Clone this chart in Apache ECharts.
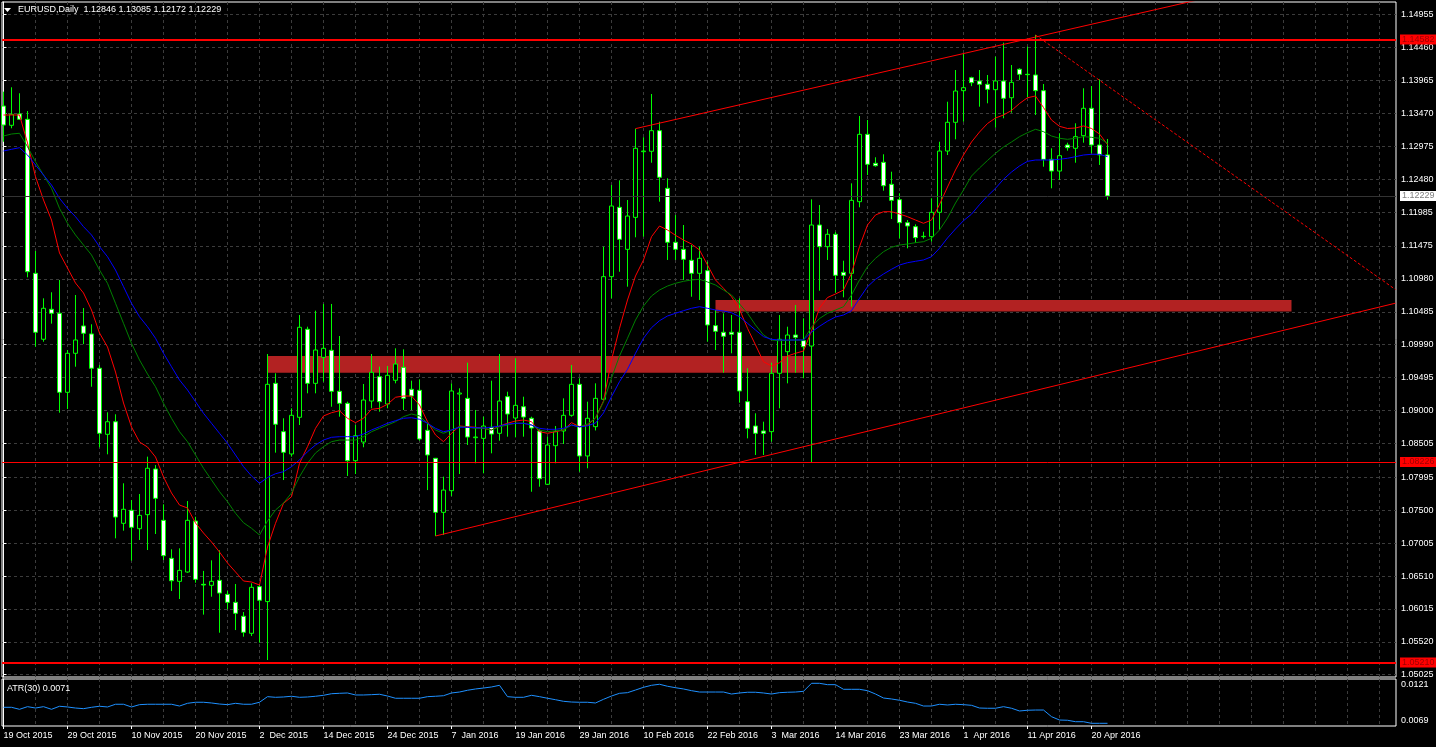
<!DOCTYPE html>
<html><head><meta charset="utf-8">
<script src="https://cdn.jsdelivr.net/npm/echarts@6/dist/echarts.min.js"></script>
<style>html,body{margin:0;padding:0;background:#000;overflow:hidden}#c{width:1436px;height:747px}</style>
</head><body><div id="c"></div>
<script>
// ---------------- DATA ----------------
const symbolTitle = 'EURUSD,Daily';
const lastBar = ['1.12846', '1.13085', '1.12172', '1.12229'];
const atrTitle = 'ATR(30) 0.0071';

const tickLabels = ['19 Oct 2015','29 Oct 2015','10 Nov 2015','20 Nov 2015','2  Dec 2015','14 Dec 2015','24 Dec 2015','7  Jan 2016','19 Jan 2016','29 Jan 2016','10 Feb 2016','22 Feb 2016','3  Mar 2016','14 Mar 2016','23 Mar 2016','1  Apr 2016','11 Apr 2016','20 Apr 2016'];
const priceTicks = [1.14955,1.14460,1.13965,1.13470,1.12975,1.12480,1.11985,1.11475,1.10980,1.10485,1.09990,1.09495,1.09000,1.08505,1.07995,1.07500,1.07005,1.06510,1.06015,1.05520,1.05025];
const atrTicks = [0.0069, 0.0121];

const opens = [1.13581,1.13291,1.13462,1.13381,1.11064,1.10072,1.10523,1.10463,1.09274,1.09861,
 1.10272,1.10152,1.09636,1.08642,1.08831,1.07303,1.07499,1.07222,1.07433,1.08120,
 1.07348,1.06776,1.06430,1.06570,1.07337,1.06385,1.06370,1.06445,1.06234,1.06114,
 1.05904,1.05648,1.06350,1.06125,1.09409,1.08682,1.08346,1.08898,1.10222,1.09409,
 1.09800,1.09906,1.09289,1.09108,1.08245,1.08526,1.09143,1.09509,1.09098,1.09455,
 1.09650,1.09319,1.09304,1.08702,1.08281,1.07468,1.07794,1.09248,1.09183,1.08591,
 1.08581,1.08747,1.08657,1.09208,1.08887,1.09057,1.08883,1.08692,1.07890,1.08471,
 1.08692,1.08928,1.09394,1.08316,1.08757,1.09169,1.11014,1.12057,1.11425,1.11906,
 1.12894,1.12900,1.13210,1.12343,1.11531,1.11425,1.11260,1.11064,1.11104,1.10277,
 1.10177,1.10177,1.10177,1.09133,1.08767,1.08692,1.08682,1.09560,1.09885,1.10136,
 1.10051,1.09970,1.11791,1.11465,1.11651,1.11079,1.11064,1.12142,1.13155,1.12719,
 1.12734,1.12403,1.12172,1.11826,1.11766,1.11616,1.11616,1.11982,1.12904,1.13336,
 1.13812,1.14007,1.13957,1.13908,1.13827,1.13957,1.13706,1.14134,1.14058,1.14048,
 1.13812,1.12779,1.12603,1.12995,1.12945,1.13135,1.13547,1.12995,1.12846];
const highs = [1.13797,1.13863,1.13773,1.13506,1.11400,1.10688,1.10779,1.10964,1.09910,1.10738,
 1.10542,1.10297,1.09685,1.08973,1.08943,1.07905,1.07653,1.07744,1.08306,1.08180,
 1.07589,1.06912,1.06927,1.07638,1.07402,1.06587,1.06746,1.06897,1.06285,1.06390,
 1.05968,1.06400,1.06385,1.09850,1.09560,1.08883,1.09033,1.10437,1.10261,1.10502,
 1.10603,1.10603,1.10121,1.09133,1.08782,1.09399,1.09850,1.09660,1.09670,1.09936,
 1.09921,1.09449,1.09469,1.08807,1.08286,1.08005,1.09409,1.09334,1.09720,1.09008,
 1.08907,1.09449,1.09850,1.09283,1.09786,1.09208,1.08907,1.08717,1.08606,1.08767,
 1.09183,1.09685,1.09485,1.09133,1.09409,1.11465,1.12393,1.12463,1.12167,1.13240,
 1.13111,1.13762,1.13345,1.12494,1.11941,1.11791,1.11490,1.11465,1.11239,1.10512,
 1.10462,1.10437,1.10688,1.09636,1.08958,1.08832,1.09720,1.10437,1.10261,1.10588,
 1.10387,1.12177,1.12092,1.11731,1.11686,1.11254,1.12418,1.13431,1.13371,1.12810,
 1.12855,1.12593,1.12268,1.11866,1.11801,1.11690,1.12193,1.13044,1.13646,1.14123,
 1.14374,1.14022,1.14123,1.14048,1.14324,1.14534,1.14198,1.14149,1.14474,1.14650,
 1.13912,1.12945,1.13171,1.13029,1.13321,1.13848,1.13882,1.13983,1.13085];
const lows = [1.13044,1.13246,1.13371,1.11004,1.09960,1.10035,1.10307,1.08967,1.09023,1.09659,
 1.09999,1.09358,1.08447,1.08341,1.07077,1.07192,1.06741,1.07052,1.06901,1.07142,
 1.06751,1.06284,1.06164,1.06560,1.06409,1.05929,1.06199,1.05657,1.06009,1.05697,
 1.05597,1.05607,1.05507,1.05246,1.08366,1.07954,1.08306,1.08782,1.09259,1.09259,
 1.09434,1.09057,1.08907,1.08015,1.08045,1.08447,1.09033,1.08982,1.09033,1.09409,
 1.09008,1.09008,1.08546,1.07803,1.07112,1.07127,1.07713,1.08045,1.08481,1.08206,
 1.08055,1.08356,1.08546,1.08606,1.08596,1.08606,1.07778,1.07854,1.07879,1.08206,
 1.08496,1.08907,1.08080,1.08131,1.08700,1.09158,1.10688,1.11088,1.10863,1.11606,
 1.11616,1.12728,1.12142,1.11265,1.11265,1.10964,1.10712,1.10663,1.10035,1.09910,
 1.09569,1.09861,1.09118,1.08581,1.08331,1.08331,1.08531,1.09033,1.09409,1.09569,
 1.09485,1.08215,1.10803,1.11265,1.10773,1.10703,1.10562,1.12057,1.12543,1.12668,
 1.12307,1.11881,1.11591,1.11440,1.11525,1.11586,1.11540,1.11716,1.12844,1.13080,
 1.13345,1.13880,1.13571,1.13622,1.13255,1.13396,1.13481,1.13973,1.13712,1.13446,
 1.12668,1.12343,1.12468,1.12909,1.12728,1.13029,1.12870,1.12694,1.12172];
const closes = [1.13295,1.13457,1.13382,1.11088,1.10177,1.10538,1.10463,1.09274,1.09861,1.10061,
 1.10162,1.09636,1.08657,1.08831,1.07397,1.07514,1.07243,1.07423,1.08131,1.07679,
 1.06816,1.06439,1.06595,1.07348,1.06460,1.06375,1.06430,1.06254,1.06114,1.05949,
 1.05663,1.06340,1.06145,1.09394,1.08793,1.08371,1.08928,1.10252,1.09409,1.09910,
 1.09936,1.09289,1.09108,1.08245,1.08621,1.09158,1.09575,1.09133,1.09530,1.09700,
 1.09183,1.09218,1.08571,1.08331,1.07468,1.07803,1.09294,1.09263,1.08601,1.08601,
 1.08767,1.08646,1.09143,1.08947,1.09078,1.08902,1.08737,1.07974,1.08481,1.08682,
 1.08928,1.09394,1.08316,1.08883,1.09183,1.11014,1.12077,1.11576,1.11926,1.12945,
 1.12904,1.13210,1.12509,1.11531,1.11425,1.11275,1.11064,1.11290,1.10287,1.10192,
 1.10117,1.10147,1.09294,1.08732,1.08657,1.08657,1.09560,1.10072,1.10136,1.10102,
 1.09960,1.11791,1.11465,1.11651,1.11034,1.11034,1.12162,1.13155,1.12704,1.12683,
 1.12382,1.12162,1.11826,1.11776,1.11601,1.11621,1.11982,1.12904,1.13336,1.13807,
 1.13857,1.13932,1.13908,1.13833,1.13958,1.13697,1.13938,1.14058,1.14053,1.13812,
 1.12779,1.12603,1.12834,1.12954,1.13120,1.13547,1.12995,1.12846,1.12229];

const maRed = [1.13446,1.13446,1.13446,1.13025,1.12518,1.12167,1.11866,1.11370,1.11144,1.10918,
 1.10768,1.10512,1.10166,1.09956,1.09579,1.09113,1.08752,1.08526,1.08451,1.08301,
 1.08000,1.07759,1.07578,1.07533,1.07308,1.07157,1.07022,1.06871,1.06706,1.06571,
 1.06435,1.06420,1.06375,1.06947,1.07303,1.07604,1.07703,1.08206,1.08456,1.08732,
 1.08918,1.08967,1.08997,1.08883,1.08817,1.08883,1.09018,1.09033,1.09094,1.09199,
 1.09218,1.09218,1.09083,1.08832,1.08632,1.08531,1.08657,1.08767,1.08756,1.08748,
 1.08732,1.08707,1.08767,1.08808,1.08842,1.08857,1.08832,1.08681,1.08657,1.08681,
 1.08707,1.08817,1.08756,1.08782,1.08887,1.09143,1.09760,1.10237,1.10663,1.11024,
 1.11265,1.11615,1.11776,1.11716,1.11636,1.11565,1.11505,1.11415,1.11189,1.10964,
 1.10839,1.10712,1.10523,1.10237,1.09986,1.09734,1.09670,1.09719,1.09820,1.09861,
 1.09895,1.10196,1.10542,1.10700,1.10753,1.10813,1.11064,1.11465,1.11791,1.11942,
 1.11991,1.11991,1.11957,1.11916,1.11866,1.11817,1.11866,1.12100,1.12363,1.12619,
 1.12844,1.13040,1.13190,1.13318,1.13401,1.13446,1.13514,1.13619,1.13706,1.13732,
 1.13559,1.13371,1.13276,1.13243,1.13250,1.13281,1.13243,1.13160,1.13002];
const maGreen = [1.13130,1.13160,1.13171,1.12969,1.12743,1.12543,1.12343,1.12042,1.11817,1.11641,
 1.11490,1.11340,1.11114,1.10914,1.10613,1.10312,1.10011,1.09760,1.09549,1.09358,
 1.09109,1.08883,1.08681,1.08531,1.08331,1.08131,1.07955,1.07779,1.07628,1.07454,
 1.07312,1.07228,1.07127,1.07338,1.07503,1.07609,1.07759,1.08004,1.08206,1.08361,
 1.08456,1.08531,1.08556,1.08556,1.08556,1.08606,1.08681,1.08732,1.08782,1.08832,
 1.08907,1.08948,1.08918,1.08808,1.08707,1.08657,1.08707,1.08756,1.08748,1.08732,
 1.08732,1.08707,1.08756,1.08782,1.08808,1.08808,1.08782,1.08707,1.08681,1.08696,
 1.08707,1.08782,1.08756,1.08797,1.08887,1.09128,1.09489,1.09820,1.10087,1.10362,
 1.10572,1.10723,1.10813,1.10873,1.10914,1.10944,1.10964,1.10974,1.10934,1.10888,
 1.10813,1.10738,1.10603,1.10463,1.10287,1.10136,1.10061,1.10050,1.10056,1.10061,
 1.10061,1.10257,1.10384,1.10463,1.10512,1.10562,1.10738,1.10964,1.11164,1.11290,
 1.11389,1.11456,1.11490,1.11505,1.11525,1.11540,1.11591,1.11716,1.11896,1.12122,
 1.12318,1.12528,1.12649,1.12762,1.12870,1.12965,1.13040,1.13120,1.13180,1.13231,
 1.13195,1.13130,1.13096,1.13080,1.13096,1.13120,1.13111,1.13096,1.13020];
const maBlue = [1.12904,1.12930,1.12954,1.12844,1.12694,1.12543,1.12393,1.12193,1.12042,1.11916,
 1.11766,1.11641,1.11465,1.11314,1.11114,1.10863,1.10613,1.10411,1.10261,1.10087,
 1.09861,1.09659,1.09459,1.09309,1.09133,1.08958,1.08808,1.08657,1.08507,1.08331,
 1.08155,1.08015,1.07905,1.07992,1.08049,1.08080,1.08155,1.08256,1.08380,1.08481,
 1.08556,1.08597,1.08606,1.08606,1.08606,1.08647,1.08707,1.08756,1.08808,1.08847,
 1.08883,1.08892,1.08868,1.08808,1.08732,1.08681,1.08707,1.08748,1.08748,1.08742,
 1.08737,1.08748,1.08767,1.08797,1.08808,1.08808,1.08782,1.08732,1.08717,1.08717,
 1.08732,1.08782,1.08752,1.08770,1.08812,1.08963,1.09208,1.09434,1.09620,1.09861,
 1.10087,1.10246,1.10351,1.10422,1.10463,1.10502,1.10538,1.10562,1.10538,1.10512,
 1.10497,1.10472,1.10411,1.10312,1.10211,1.10111,1.10071,1.10061,1.10061,1.10061,
 1.10061,1.10181,1.10267,1.10344,1.10407,1.10437,1.10502,1.10688,1.10863,1.10974,
 1.11054,1.11125,1.11189,1.11224,1.11245,1.11265,1.11314,1.11441,1.11596,1.11731,
 1.11856,1.11954,1.12097,1.12227,1.12343,1.12479,1.12588,1.12679,1.12749,1.12769,
 1.12769,1.12769,1.12780,1.12795,1.12819,1.12844,1.12855,1.12855,1.12819];
const atr = [0.00910,0.00910,0.00885,0.00918,0.00901,0.00918,0.00885,0.00923,0.00914,0.00901,
 0.00893,0.00910,0.00923,0.00914,0.00948,0.00948,0.00914,0.00943,0.00948,0.00948,
 0.00948,0.00948,0.00926,0.00960,0.00973,0.00973,0.00964,0.00951,0.00943,0.00960,
 0.00948,0.00948,0.00973,0.01043,0.01035,0.01039,0.01048,0.01035,0.01039,0.01048,
 0.01060,0.01080,0.01085,0.01089,0.01064,0.01064,0.01068,0.01073,0.01051,0.01023,
 0.01023,0.01023,0.01023,0.01043,0.01048,0.01055,0.01089,0.01101,0.01123,0.01139,
 0.01151,0.01164,0.01185,0.01043,0.01035,0.01035,0.01060,0.01043,0.01023,0.01005,
 0.00985,0.00976,0.00973,0.00973,0.00964,0.01010,0.01051,0.01085,0.01093,0.01126,
 0.01160,0.01185,0.01198,0.01173,0.01155,0.01139,0.01118,0.01101,0.01101,0.01101,
 0.01101,0.01076,0.01089,0.01098,0.01098,0.01089,0.01076,0.01093,0.01098,0.01101,
 0.01110,0.01210,0.01210,0.01193,0.01193,0.01135,0.01135,0.01135,0.01118,0.01076,
 0.01026,0.01014,0.00998,0.00976,0.00960,0.00926,0.00926,0.00948,0.00939,0.00948,
 0.00943,0.00935,0.00901,0.00898,0.00898,0.00918,0.00898,0.00864,0.00873,0.00876,
 0.00876,0.00793,0.00751,0.00748,0.00730,0.00730,0.00710,0.00710,0.00710];

// horizontal levels (price) and bid
const levelTop = 1.14582;
const levelBottom = 1.05210;
const levelMid = 1.08226;
const bidPrice = 1.12229;
// zones: [fromBar, toBar, lowPrice, highPrice]
const zoneLower = [33, 101, 1.09569, 1.09820];
const zoneUpper = [89, 161, 1.10490, 1.10663];
// trend lines: [bar, price] pairs
const channelUpper = [[79, 1.13241], [174, 1.15858]];
const channelLower = [[54, 1.07112], [174, 1.10615]];
const fanDotted = [[129, 1.14650], [174, 1.10820]];

// ---------------- LAYOUT ----------------
const SLOTS = 175, BAR_PX = 8, LABEL_STEP = 8, GRID_STEP = 4;
const Y_MIN = 1.049907, Y_MAX = 1.151461;
const X_MIN = -0.1875, X_MAX = 174.0625;
const A_MIN = 0.006763, A_MAX = 0.012638;
const FONT = 'Liberation Sans';
const GRIDC = '#3c3c3c';

const slots = Array.from({length: SLOTS}, (_, i) => String(i));
const labelIdx = tickLabels.map((_, i) => i * LABEL_STEP);
const gridCols = [];
for (let b = GRID_STEP; b < X_MAX; b += GRID_STEP) gridCols.push(b);
const candles = opens.map((o, i) => [o, closes[i], lows[i], highs[i]]);
const atrPts = atr.map((v, i) => [i, v]);

function levelLine(v, color, width, bg, fg) {
  return {
    yAxis: v,
    lineStyle: {color: color, width: width, type: 'solid'},
    label: {show: true, position: 'end', distance: 4, formatter: v.toFixed(5),
      backgroundColor: bg, color: fg, padding: [1, 3, 0, 2], fontSize: 9, fontFamily: FONT}
  };
}

const chart = echarts.init(document.getElementById('c'), null, {renderer: 'canvas'});
const option = {
  animation: false,
  backgroundColor: '#000',
  textStyle: {fontFamily: FONT},
  title: [
    {text: symbolTitle + '  ' + lastBar.join(' '), left: 18, top: 5, padding: 0,
     textStyle: {color: '#fff', fontSize: 9, fontWeight: 'normal', fontFamily: FONT}},
    {text: atrTitle, left: 7, top: 684, padding: 0,
     textStyle: {color: '#fff', fontSize: 9, fontWeight: 'normal', fontFamily: FONT}}
  ],
  graphic: [{type: 'polygon', shape: {points: [[4, 8], [11, 8], [7.5, 12]]}, style: {fill: '#fff'}}],
  grid: [
    {left: -0.5, top: 2, width: SLOTS * BAR_PX, height: 675, show: false, outerBoundsMode: 'none'},
    {left: 2, top: 2, width: 1394, height: 675, show: true, borderColor: '#fff', borderWidth: 1, backgroundColor: 'transparent', outerBoundsMode: 'none'},
    {left: 2, top: 679, width: 1394, height: 47, show: true, borderColor: '#fff', borderWidth: 1, backgroundColor: 'transparent', outerBoundsMode: 'none'}
  ],
  xAxis: [
    {type: 'category', gridIndex: 0, data: slots, boundaryGap: true, show: false},
    {type: 'value', gridIndex: 1, min: X_MIN, max: X_MAX, axisLine: {show: false},
     axisTick: {show: false, customValues: gridCols}, axisLabel: {show: false},
     splitLine: {show: true, lineStyle: {color: GRIDC, type: [3, 3], width: 1}}},
    {type: 'value', gridIndex: 2, position: 'bottom', min: X_MIN, max: X_MAX,
     axisLine: {show: false},
     axisTick: {show: true, customValues: labelIdx, length: 3, lineStyle: {color: '#fff'}},
     axisLabel: {show: true, customValues: labelIdx, formatter: v => tickLabels[Math.round(v / LABEL_STEP)],
       align: 'left', color: '#fff', fontSize: 9, fontFamily: FONT, margin: 5},
     splitLine: {show: false}},
    {type: 'value', gridIndex: 2, position: 'top', min: X_MIN, max: X_MAX, axisLine: {show: false},
     axisTick: {show: false, customValues: gridCols}, axisLabel: {show: false},
     splitLine: {show: true, lineStyle: {color: GRIDC, type: [3, 3], width: 1}}}
  ],
  yAxis: [
    {type: 'value', gridIndex: 0, min: Y_MIN, max: Y_MAX, show: false},
    {type: 'value', gridIndex: 1, position: 'right', min: Y_MIN, max: Y_MAX,
     axisLine: {show: true, lineStyle: {color: '#fff'}},
     axisTick: {show: true, customValues: priceTicks, length: 3, lineStyle: {color: '#fff'}},
     axisLabel: {show: true, customValues: priceTicks, formatter: v => v.toFixed(5), color: '#fff',
       fontSize: 9, fontFamily: FONT, margin: 5},
     splitLine: {show: true, lineStyle: {color: GRIDC, type: [3, 3], width: 1}}},
    {type: 'value', gridIndex: 2, position: 'right', min: A_MIN, max: A_MAX,
     axisLine: {show: true, lineStyle: {color: '#fff'}},
     axisTick: {show: false, customValues: atrTicks},
     axisLabel: {show: true, customValues: atrTicks, margin: 5,
       formatter: v => (v < 0.009 ? '{lo|' : '{hi|') + v.toFixed(4) + '}',
       rich: {lo: {color: '#fff', fontSize: 9, fontFamily: FONT, padding: [0, 0, 9, 0]},
              hi: {color: '#fff', fontSize: 9, fontFamily: FONT, padding: [3, 0, 0, 0]}}},
     splitLine: {show: false}}
  ],
  series: [
    {name: 'zones', type: 'line', xAxisIndex: 1, yAxisIndex: 1, data: [], z: 1, silent: true,
     markArea: {silent: true, itemStyle: {color: '#b22222', opacity: 1},
       data: [
         [{xAxis: zoneLower[0], yAxis: zoneLower[3]}, {xAxis: zoneLower[1], yAxis: zoneLower[2]}],
         [{xAxis: zoneUpper[0], yAxis: zoneUpper[3]}, {xAxis: zoneUpper[1], yAxis: zoneUpper[2]}]
       ]}},
    {name: 'EURUSD', type: 'candlestick', xAxisIndex: 0, yAxisIndex: 0, data: candles, z: 2,
     barWidth: 4, silent: true,
     itemStyle: {color: '#000', color0: '#fff', borderColor: '#00ff00', borderColor0: '#00ff00',
       borderColorDoji: '#00ff00', borderWidth: 1}},
    {name: 'MA fast', type: 'line', xAxisIndex: 0, yAxisIndex: 0, data: maRed, z: 3, symbol: 'none',
     lineStyle: {color: '#ff0000', width: 1}, silent: true},
    {name: 'MA mid', type: 'line', xAxisIndex: 0, yAxisIndex: 0, data: maGreen, z: 3, symbol: 'none',
     lineStyle: {color: '#008000', width: 1}, silent: true},
    {name: 'MA slow', type: 'line', xAxisIndex: 0, yAxisIndex: 0, data: maBlue, z: 3, symbol: 'none',
     lineStyle: {color: '#0000ff', width: 1}, silent: true},
    {name: 'channel upper', type: 'line', xAxisIndex: 1, yAxisIndex: 1, data: channelUpper, z: 4,
     symbol: 'none', lineStyle: {color: '#ff0000', width: 1}, silent: true},
    {name: 'channel lower', type: 'line', xAxisIndex: 1, yAxisIndex: 1, data: channelLower, z: 4,
     symbol: 'none', lineStyle: {color: '#ff0000', width: 1}, silent: true},
    {name: 'fan', type: 'line', xAxisIndex: 1, yAxisIndex: 1, data: fanDotted, z: 4,
     symbol: 'none', lineStyle: {color: '#ff0000', width: 1, type: [3, 2]}, silent: true},
    {name: 'levels', type: 'line', xAxisIndex: 1, yAxisIndex: 1, data: [], z: 5, silent: true,
     markLine: {silent: true, symbol: ['none', 'none'], precision: 6, animation: false,
       data: [
         levelLine(bidPrice, '#333333', 1, '#ffffff', '#808080'),
         levelLine(levelTop, '#ff0000', 2, '#ff0000', '#a00000'),
         levelLine(levelMid, '#ff0000', 1, '#ff0000', '#a00000'),
         levelLine(levelBottom, '#ff0000', 2, '#ff0000', '#a00000')
       ]}},
    {name: 'ATR(30)', type: 'line', xAxisIndex: 2, yAxisIndex: 2, data: atrPts, z: 3,
     symbol: 'none', lineStyle: {color: '#1e90ff', width: 1}, silent: true}
  ]
};
chart.setOption(option);
</script>
</body></html>
